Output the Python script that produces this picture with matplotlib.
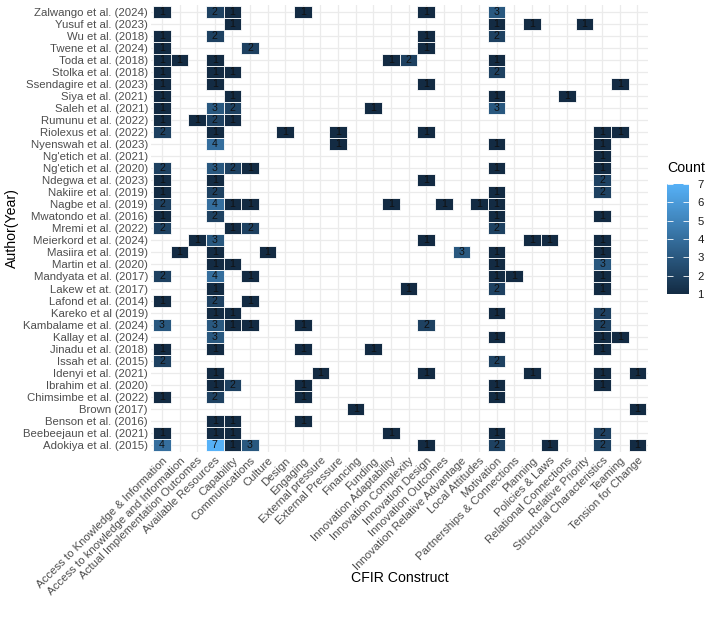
import numpy as np
import matplotlib
matplotlib.use("Agg")
import matplotlib.pyplot as plt
from matplotlib.colors import LinearSegmentedColormap, Normalize
from matplotlib.patches import Rectangle
from matplotlib.collections import PatchCollection

plt.rcParams['font.family'] = ['Liberation Sans', 'DejaVu Sans']

authors = [
    "Zalwango et al. (2024)", "Yusuf et al. (2023)", "Wu et al. (2018)",
    "Twene et al. (2024)", "Toda et al. (2018)", "Stolka et al. (2018)",
    "Ssendagire et al. (2023)", "Siya et al. (2021)", "Saleh et al. (2021)",
    "Rumunu et al. (2022)", "Riolexus et al. (2022)", "Nyenswah et al. (2023)",
    "Ng'etich et al. (2021)", "Ng'etich et al. (2020)", "Ndegwa et al. (2023)",
    "Nakiire et al. (2019)", "Nagbe et al. (2019)", "Mwatondo et al. (2016)",
    "Mremi et al. (2022)", "Meierkord et al. (2024)", "Masiira et al. (2019)",
    "Martin et al. (2020)", "Mandyata et al. (2017)", "Lakew et at. (2017)",
    "Lafond et al. (2014)", "Kareko et al (2019)", "Kambalame et al. (2024)",
    "Kallay et al. (2024)", "Jinadu et al. (2018)", "Issah et al. (2015)",
    "Idenyi et al. (2021)", "Ibrahim et al. (2020)", "Chimsimbe et al. (2022)",
    "Brown (2017)", "Benson et al. (2016)", "Beebeejaun et al. (2021)",
    "Adokiya et al. (2015)",
]

constructs = [
    "Access to Knowledge & Information", "Access to knowledge and Information",
    "Actual Implementation Outcomes", "Available Resources", "Capability",
    "Communications", "Culture", "Design", "Engaging", "External pressure",
    "External Pressure", "Financing", "Funding", "Innovation Adaptability",
    "Innovation Complexity", "Innovation Design", "Innovation Outcomes",
    "Innovation Relative Advantage", "Local Attitudes", "Motivation",
    "Partnerships & Connections", "Planning", "Policies & Laws",
    "Relational Connections", "Relative Priority", "Structural Characteristics",
    "Teaming", "Tension for Change",
]

# one digit per construct, 0 = not coded (groups of 4 for reading)
counts_rows = [
    "1002 1000 1000 0001 0003 0000 0000",
    "0000 1000 0000 0000 0001 0100 1000",
    "1002 0000 0000 0001 0002 0000 0000",
    "1000 0200 0000 0001 0000 0000 0000",
    "1101 0000 0000 0120 0001 0000 0000",
    "1001 1000 0000 0000 0002 0000 0000",
    "1001 0000 0000 0001 0000 0000 0010",
    "1000 1000 0000 0000 0001 0001 0000",
    "1003 2000 0000 1000 0003 0000 0000",
    "1012 1000 0000 0000 0000 0000 0000",
    "2001 0001 0010 0001 0000 0000 0110",
    "0004 0000 0010 0000 0001 0000 0100",
    "0000 0000 0000 0000 0000 0000 0100",
    "2003 2100 0000 0000 0001 0000 0100",
    "1001 0000 0000 0001 0000 0000 0200",
    "1002 0000 0000 0000 0001 0000 0200",
    "2004 1100 0000 0100 1011 0000 0000",
    "1002 0000 0000 0000 0001 0000 0100",
    "2000 1200 0000 0000 0002 0000 0000",
    "0013 0000 0000 0001 0000 0110 0100",
    "0101 0010 0000 0000 0301 0000 0100",
    "0001 1000 0000 0000 0001 0000 0300",
    "2004 0100 0000 0000 0001 1000 0100",
    "0001 0000 0000 0010 0002 0000 0100",
    "1002 0100 0000 0000 0000 0000 0000",
    "0001 1000 0000 0000 0001 0000 0200",
    "3003 1100 1000 0002 0000 0000 0200",
    "0003 0000 0000 0000 0001 0000 0110",
    "1001 0000 1000 1000 0000 0000 0100",
    "2000 0000 0000 0000 0002 0000 0000",
    "0001 0000 0100 0001 0000 0100 0101",
    "0001 2000 1000 0000 0001 0000 0100",
    "1002 0000 1000 0000 0001 0000 0000",
    "0000 0000 0001 0000 0000 0000 0001",
    "0001 1000 1000 0000 0000 0000 0000",
    "1001 1000 0000 0100 0001 0000 0200",
    "4007 1300 0000 0001 0002 0010 0201",
]

counts = np.array([[int(c) for c in r.replace(" ", "")] for r in counts_rows])

cmap = LinearSegmentedColormap.from_list("gg", ["#132B43", "#56B1F7"])
norm = Normalize(vmin=1, vmax=7)

fig = plt.figure(figsize=(7.08, 6.2), dpi=100)
ax = fig.add_axes([151.4 / 708, 1 - 452 / 620, (648 - 151.4) / 708, (452 - 4.8) / 620])

rects = []
vals = []
for i in range(len(authors)):
    for j in range(len(constructs)):
        v = counts[i, j]
        if v > 0:
            rects.append(Rectangle((j - 0.5, i - 0.5), 1, 1))
            vals.append(v)
            ax.text(j, i, str(v), ha='center', va='center', fontsize=7.6, color='#111111', zorder=4)

pc = PatchCollection(rects, cmap=cmap, norm=norm, edgecolor='white', linewidth=0.6, zorder=3)
pc.set_array(np.array(vals))
ax.add_collection(pc)

ax.set_xlim(-0.6, len(constructs) - 0.4)
ax.set_ylim(len(authors) - 0.4, -0.6)
ax.set_xticks(range(len(constructs)))
ax.set_yticks(range(len(authors)))
ax.set_xticklabels(constructs, rotation=45, ha='right', va='top', rotation_mode='anchor')
ax.set_yticklabels(authors)
ax.tick_params(length=0, labelsize=8.2, labelcolor='#4D4D4D', pad=2.5)
ax.grid(True, color='#EBEBEB', linewidth=0.9)
ax.set_axisbelow(True)
for s in ax.spines.values():
    s.set_visible(False)

fig.text(400 / 708, 1 - 578 / 620, "CFIR Construct", ha='center', va='center', fontsize=10.2)
fig.text(12 / 708, 1 - 228 / 620, "Author(Year)", ha='center', va='center', rotation=90, fontsize=10.2)

cax = fig.add_axes([667 / 708, 1 - 294 / 620, 22 / 708, 110 / 620])
cb = fig.colorbar(pc, cax=cax, ticks=range(1, 8))
cb.outline.set_visible(False)
cax.tick_params(axis='y', direction='in', color='white', length=4, width=0.6,
                left=True, right=True, labelsize=8.2, labelcolor='#1a1a1a', pad=6)
fig.text(667 / 708, 1 - 168 / 620, "Count", ha='left', va='center', fontsize=10.2)

fig.savefig("out.png", dpi=100)
